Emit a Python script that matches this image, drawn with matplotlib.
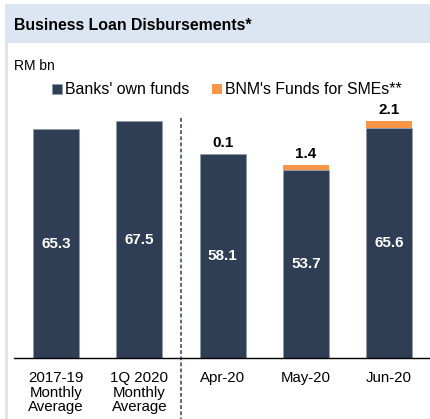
import numpy as np
import matplotlib
matplotlib.use('Agg')
import matplotlib.pyplot as plt
from matplotlib.patches import Rectangle
import matplotlib.transforms as mtransforms

categories = ['2017-19\nMonthly\nAverage', '1Q 2020\nMonthly\nAverage', 'Apr-20', 'May-20', 'Jun-20']
own_funds = [65.3, 67.5, 58.1, 53.7, 65.6]
bnm_funds = [0.0, 0.0, 0.1, 1.4, 2.1]
bnm_labels = ['', '', '0.1', '1.4', '2.1']

navy = '#2f3e55'
orange = '#f79646'
band = '#dce6f2'

plt.rcParams['font.family'] = ['Liberation Sans', 'DejaVu Sans']

fig = plt.figure(figsize=(4.30, 4.19), dpi=100)
W, H = 430, 419

# header band and left border
fig.patches.append(Rectangle((5 / W, 1 - 43 / H), 425 / W, 39 / H, transform=fig.transFigure,
                             facecolor=band, edgecolor='none', zorder=0))
fig.patches.append(Rectangle((5 / W, 0), 2.5 / W, 1 - 43 / H, transform=fig.transFigure,
                             facecolor=band, edgecolor='none', zorder=0))
fig.text(14 / W, 1 - 25 / H, 'Business Loan Disbursements*', fontsize=11.4, fontweight='bold',
         va='center', ha='left')
fig.text(14 / W, 1 - 66 / H, 'RM bn', fontsize=10, va='center', ha='left')

ax = fig.add_axes([14 / W, (H - 358) / H, 416 / W, 258 / H])
x = np.arange(len(categories))
b1 = ax.bar(x, own_funds, width=0.555, color=navy, edgecolor='#8e97a6', linewidth=0.4,
            label="Banks' own funds", zorder=2)
b2 = ax.bar(x, bnm_funds, width=0.555, bottom=own_funds, color=orange, edgecolor='none',
            label="BNM's Funds for SMEs**", zorder=2)

ax.set_xlim(-0.505, 4.49)
ax.set_ylim(0, 258 / 3.505)
for s in ['top', 'right', 'left']:
    ax.spines[s].set_visible(False)
ax.spines['bottom'].set_linewidth(1.0)
ax.set_yticks([])
ax.set_xticks(x)
ax.set_xticklabels(categories, fontsize=10.8, linespacing=1.03)
ax.tick_params(axis='x', length=0, pad=9.5)

# value labels
for i in range(len(x)):
    ax.text(x[i], own_funds[i] / 2, f'{own_funds[i]:.1f}', color='white', fontweight='bold',
            fontsize=11, ha='center', va='center', zorder=3)
    if bnm_labels[i]:
        ax.annotate(bnm_labels[i], (x[i], own_funds[i] + bnm_funds[i]), xytext=(0, 3),
                    textcoords='offset points', ha='center', va='bottom', fontweight='bold',
                    fontsize=11)

# divider between averages and monthly figures
trans = mtransforms.blended_transform_factory(ax.transData, ax.transAxes)
ax.plot([1.5, 1.5], [0.93, -0.24], transform=trans, clip_on=False, color=navy,
        linestyle=(0, (2.5, 1.5)), linewidth=1.1, zorder=1)

fig.legend(handles=[b1, b2], loc='center left', bbox_to_anchor=(52 / W, 1 - 90 / H), ncol=2,
           frameon=False, fontsize=11.4, handlelength=0.65, handleheight=0.65, handletextpad=0.2,
           columnspacing=1.4, borderaxespad=0, borderpad=0)

fig.savefig('out.png', dpi=100)
